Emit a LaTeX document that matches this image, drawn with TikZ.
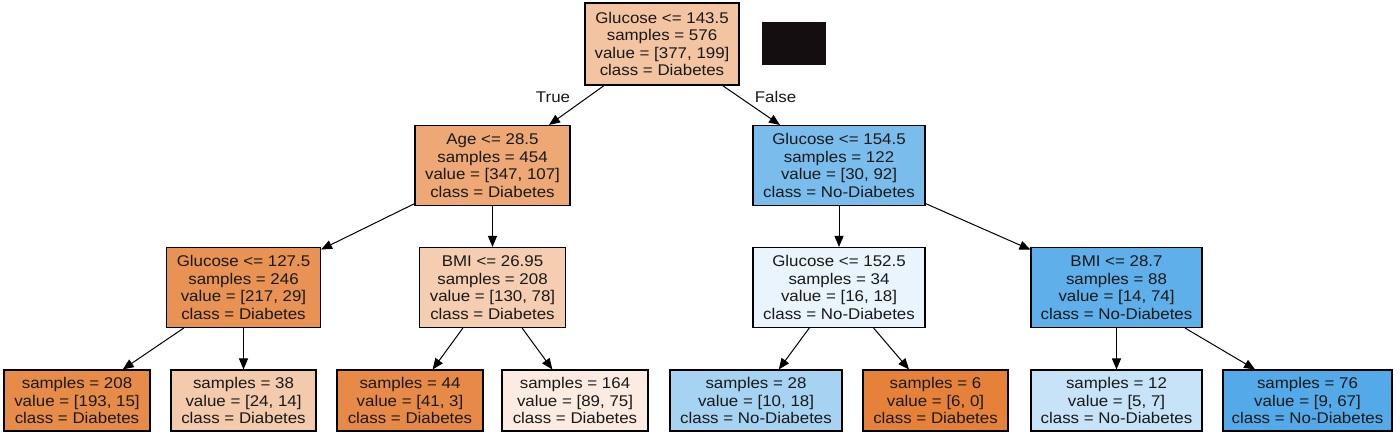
\documentclass[tikz,border=0pt]{standalone}
\usepackage{fontspec}
\setmainfont{Liberation Sans}[FakeStretch=1.09]
\usetikzlibrary{arrows.meta}
\definecolor{cRoot}{HTML}{F3C4A2}
\definecolor{cAge}{HTML}{EDA876}
\definecolor{cGa}{HTML}{7ABDED}
\definecolor{cGb}{HTML}{E89254}
\definecolor{cBa}{HTML}{F5CDB0}
\definecolor{cGc}{HTML}{E9F4FC}
\definecolor{cBb}{HTML}{5EAFEA}
\definecolor{cLa}{HTML}{E78B48}
\definecolor{cLb}{HTML}{F4CAAC}
\definecolor{cLc}{HTML}{E78A47}
\definecolor{cLd}{HTML}{FBEBE0}
\definecolor{cLe}{HTML}{A7D3F3}
\definecolor{cLf}{HTML}{E58139}
\definecolor{cLg}{HTML}{C6E3F7}
\definecolor{cLh}{HTML}{54AAE8}
\definecolor{cBlack}{HTML}{140E10}
\tikzset{
  tnode/.style={draw=black, line width=1.1bp, inner sep=0pt, align=center,
    font=\fontsize{15.5bp}{17.6bp}\selectfont, text=black!90},
  edge/.style={line width=1bp, -{Triangle[length=11bp,width=9bp]}},
  elabel/.style={font=\fontsize{15.5bp}{17.6bp}\selectfont, text=black!90}
}
\begin{document}
\begin{tikzpicture}[x=1bp,y=-1bp]
\useasboundingbox[fill=white] (0,0) rectangle (1400,436);
% level 0
\node[tnode, fill=cRoot, minimum width=154bp, minimum height=82bp] (root) at (662,44)
  {Glucose <= 143.5\\samples = 576\\value = [377, 199]\\class = Diabetes};
\node[fill=cBlack, minimum width=64bp, minimum height=43bp, inner sep=0pt] (blk) at (793.5,44) {};
% level 1
\node[tnode, fill=cAge, minimum width=155bp, minimum height=80bp] (age) at (492.5,165.5)
  {Age <= 28.5\\samples = 454\\value = [347, 107]\\class = Diabetes};
\node[tnode, fill=cGa, minimum width=172bp, minimum height=80bp] (ga) at (839,165.5)
  {Glucose <= 154.5\\samples = 122\\value = [30, 92]\\class = No-Diabetes};
% level 2
\node[tnode, fill=cGb, minimum width=154bp, minimum height=80bp] (gb) at (243.5,287.5)
  {Glucose <= 127.5\\samples = 246\\value = [217, 29]\\class = Diabetes};
\node[tnode, fill=cBa, minimum width=146bp, minimum height=80bp] (ba) at (492.5,287.5)
  {BMI <= 26.95\\samples = 208\\value = [130, 78]\\class = Diabetes};
\node[tnode, fill=cGc, minimum width=172bp, minimum height=80bp] (gc) at (839,287.5)
  {Glucose <= 152.5\\samples = 34\\value = [16, 18]\\class = No-Diabetes};
\node[tnode, fill=cBb, minimum width=171bp, minimum height=80bp] (bb) at (1116.5,287.5)
  {BMI <= 28.7\\samples = 88\\value = [14, 74]\\class = No-Diabetes};
% leaves
\node[tnode, fill=cLa, minimum width=146bp, minimum height=61bp] (la) at (77,400.5)
  {samples = 208\\value = [193, 15]\\class = Diabetes};
\node[tnode, fill=cLb, minimum width=145bp, minimum height=61bp] (lb) at (243.5,400.5)
  {samples = 38\\value = [24, 14]\\class = Diabetes};
\node[tnode, fill=cLc, minimum width=146bp, minimum height=61bp] (lc) at (410,400.5)
  {samples = 44\\value = [41, 3]\\class = Diabetes};
\node[tnode, fill=cLd, minimum width=146bp, minimum height=61bp] (ld) at (575,400.5)
  {samples = 164\\value = [89, 75]\\class = Diabetes};
\node[tnode, fill=cLe, minimum width=172bp, minimum height=61bp] (le) at (756,400.5)
  {samples = 28\\value = [10, 18]\\class = No-Diabetes};
\node[tnode, fill=cLf, minimum width=145bp, minimum height=61bp] (lf) at (935.5,400.5)
  {samples = 6\\value = [6, 0]\\class = Diabetes};
\node[tnode, fill=cLg, minimum width=171bp, minimum height=61bp] (lg) at (1116.5,400.5)
  {samples = 12\\value = [5, 7]\\class = No-Diabetes};
\node[tnode, fill=cLh, minimum width=169bp, minimum height=61bp] (lh) at (1307.5,400.5)
  {samples = 76\\value = [9, 67]\\class = No-Diabetes};
% edges
\draw[edge] (root) -- (age);
\draw[edge] (root) -- (ga);
\draw[edge] (age) -- (gb);
\draw[edge] (age) -- (ba);
\draw[edge] (ga) -- (gc);
\draw[edge] (ga) -- (bb);
\draw[edge] (gb) -- (la);
\draw[edge] (gb) -- (lb);
\draw[edge] (ba) -- (lc);
\draw[edge] (ba) -- (ld);
\draw[edge] (gc) -- (le);
\draw[edge] (gc) -- (lf);
\draw[edge] (bb) -- (lg);
\draw[edge] (bb) -- (lh);
% edge labels
\node[elabel] (ltrue) at (553,97) {True};
\node[elabel] (lfalse) at (775.5,97) {False};
\end{tikzpicture}
\end{document}
